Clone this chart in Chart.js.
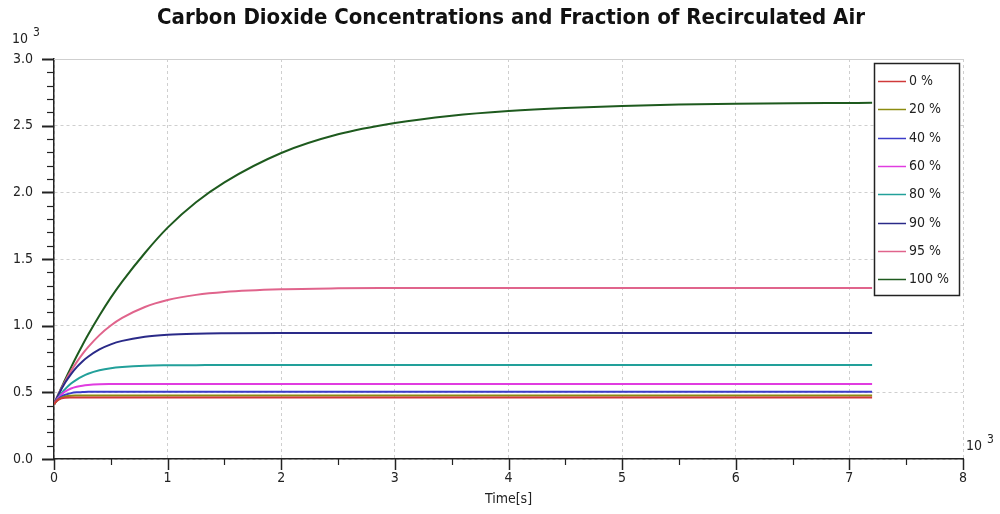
<!DOCTYPE html>
<html>
<head>
<meta charset="utf-8">
<script src="https://cdn.jsdelivr.net/npm/chart.js@4"></script>
<style>
  html, body { margin: 0; padding: 0; background: #fff; }
  #wrap { width: 1000px; height: 514px; }
</style>
</head>
<body>
<div id="wrap"><canvas id="co2chart"></canvas></div>
<script>
// time axis in 10^3 s, concentrations in 10^3 ppm
var timeKs = [0, 0.02, 0.04, 0.06, 0.08, 0.1, 0.15, 0.2, 0.25, 0.3, 0.4, 0.5, 0.6, 0.8, 1.0,
              1.25, 1.5, 2.0, 2.5, 3.0, 3.5, 4.0, 4.5, 5.0, 5.5, 6.0, 6.5, 7.0, 7.2];

var co2_0   = [0.41, 0.433, 0.445, 0.453, 0.457, 0.459, 0.461, 0.462, 0.462, 0.462, 0.462, 0.462, 0.462, 0.462, 0.462,
               0.462, 0.462, 0.462, 0.462, 0.462, 0.462, 0.462, 0.462, 0.462, 0.462, 0.462, 0.462, 0.462, 0.462];
var co2_20  = [0.41, 0.432, 0.447, 0.457, 0.463, 0.468, 0.474, 0.476, 0.477, 0.477, 0.477, 0.477, 0.477, 0.477, 0.477,
               0.477, 0.477, 0.477, 0.477, 0.477, 0.477, 0.477, 0.477, 0.477, 0.477, 0.477, 0.477, 0.477, 0.477];
var co2_40  = [0.41, 0.434, 0.451, 0.465, 0.475, 0.482, 0.494, 0.500, 0.502, 0.504, 0.505, 0.505, 0.505, 0.505, 0.505,
               0.505, 0.505, 0.505, 0.505, 0.505, 0.505, 0.505, 0.505, 0.505, 0.505, 0.505, 0.505, 0.505, 0.505];
var co2_60  = [0.41, 0.438, 0.460, 0.479, 0.494, 0.507, 0.529, 0.542, 0.550, 0.555, 0.560, 0.562, 0.563, 0.563, 0.563,
               0.563, 0.563, 0.563, 0.563, 0.563, 0.563, 0.563, 0.563, 0.563, 0.563, 0.563, 0.563, 0.563, 0.563];
var co2_80  = [0.41, 0.438, 0.463, 0.486, 0.507, 0.526, 0.566, 0.596, 0.620, 0.639, 0.665, 0.681, 0.690, 0.700, 0.703,
               0.704, 0.705, 0.705, 0.705, 0.705, 0.705, 0.705, 0.705, 0.705, 0.705, 0.705, 0.705, 0.705, 0.705];
var co2_90  = [0.41, 0.448, 0.483, 0.516, 0.546, 0.575, 0.637, 0.689, 0.732, 0.767, 0.822, 0.860, 0.886, 0.917, 0.932,
               0.940, 0.943, 0.945, 0.945, 0.945, 0.945, 0.945, 0.945, 0.945, 0.945, 0.945, 0.945, 0.945, 0.945];
var co2_95  = [0.41, 0.449, 0.485, 0.521, 0.554, 0.586, 0.661, 0.727, 0.787, 0.839, 0.929, 1.001, 1.058, 1.140, 1.192,
               1.231, 1.253, 1.273, 1.280, 1.282, 1.283, 1.283, 1.283, 1.283, 1.283, 1.283, 1.283, 1.283, 1.283];
var co2_100 = [0.41, 0.449, 0.488, 0.525, 0.562, 0.599, 0.687, 0.772, 0.853, 0.931, 1.076, 1.21, 1.33, 1.545, 1.735,
               1.925, 2.075, 2.295, 2.435, 2.52, 2.575, 2.61, 2.633, 2.648, 2.658, 2.664, 2.668, 2.67, 2.671];

var seriesLabels = ['0 %', '20 %', '40 %', '60 %', '80 %', '90 %', '95 %', '100 %'];
var seriesValues = [co2_0, co2_20, co2_40, co2_60, co2_80, co2_90, co2_95, co2_100];
var seriesColors = ['#d03a3a', '#8c8c10', '#3c3cc8', '#e03ce0', '#22a09a', '#2a2a88', '#e0648c', '#1e5a1e'];

var yTicks = [0, 0.5, 1.0, 1.5, 2.0, 2.5, 3.0];
var xTicks = [0, 1, 2, 3, 4, 5, 6, 7, 8];

var chartTitle = 'Carbon Dioxide Concentrations and Fraction of Recirculated Air';
var FONT = "'DejaVu Sans Condensed', 'DejaVu Sans', sans-serif";

var datasets = seriesValues.map(function (vals, i) {
    return {
        label: seriesLabels[i],
        data: vals.map(function (v, k) { return { x: timeKs[k], y: v }; }),
        borderColor: seriesColors[i],
        backgroundColor: seriesColors[i],
        borderWidth: 2,
        pointRadius: 0,
        cubicInterpolationMode: 'monotone',
        fill: false
    };
});

// title, minor/major axis ticks, exponent labels and the boxed legend
var decorations = {
    id: 'decorations',
    afterDraw: function (chart) {
        var ctx = chart.ctx, a = chart.chartArea;
        var xs = chart.scales.x, ys = chart.scales.y;
        ctx.save();

        ctx.fillStyle = '#111';
        ctx.font = 'bold 22px ' + FONT;
        ctx.textAlign = 'center';
        ctx.textBaseline = 'middle';
        ctx.fillText(chartTitle, 511, 18);

        ctx.strokeStyle = '#cfcfcf';
        ctx.lineWidth = 1;
        ctx.beginPath();
        ctx.moveTo(a.left, Math.round(a.top) + 0.5);
        ctx.lineTo(a.right, Math.round(a.top) + 0.5);
        ctx.stroke();

        ctx.strokeStyle = '#222';
        for (var i = 0; i <= 30; i++) {
            var py = Math.round(ys.getPixelForValue(i / 10)) + 0.5;
            var major = i % 5 === 0;
            ctx.lineWidth = major ? 2 : 1.2;
            ctx.beginPath();
            ctx.moveTo(a.left - (major ? 12 : 7), py);
            ctx.lineTo(a.left, py);
            ctx.stroke();
        }
        for (var j = 0; j <= 16; j++) {
            var px = Math.round(xs.getPixelForValue(j / 2)) + 0.5;
            var maj = j % 2 === 0;
            ctx.lineWidth = maj ? 1.5 : 1.2;
            ctx.beginPath();
            ctx.moveTo(px, a.bottom);
            ctx.lineTo(px, a.bottom + (maj ? 11 : 6));
            ctx.stroke();
        }

        // exponent labels
        ctx.fillStyle = '#222';
        ctx.textBaseline = 'alphabetic';
        ctx.textAlign = 'left';
        ctx.font = '14px ' + FONT;
        ctx.fillText('10', 12, 43);
        ctx.fillText('10', 966, 450);
        ctx.font = '12px ' + FONT;
        ctx.fillText('3', 33, 36);
        ctx.fillText('3', 987, 443);

        // legend
        var lx = 874, ly = 63, lw = 85, lh = 232;
        ctx.fillStyle = '#fff';
        ctx.fillRect(lx, ly, lw, lh);
        ctx.strokeStyle = '#222';
        ctx.lineWidth = 1.5;
        ctx.strokeRect(lx + 0.5, ly + 0.5, lw, lh);
        ctx.font = '14px ' + FONT;
        ctx.textBaseline = 'middle';
        chart.data.datasets.forEach(function (ds, k) {
            var ry = Math.round(ly + 18 + k * 28.33) + 0.5;
            ctx.strokeStyle = ds.borderColor;
            ctx.lineWidth = 1.5;
            ctx.beginPath();
            ctx.moveTo(lx + 4, ry);
            ctx.lineTo(lx + 32, ry);
            ctx.stroke();
            ctx.fillStyle = '#222';
            ctx.fillText(ds.label, lx + 35, ry);
        });
        ctx.restore();
    }
};

var ctx = document.getElementById('co2chart').getContext('2d');
var chart = new Chart(ctx, {
    type: 'line',
    data: { datasets: datasets },
    options: {
        responsive: true,
        maintainAspectRatio: false,
        animation: false,
        events: [],
        layout: { padding: { top: 59, right: 37, bottom: 0, left: 0 } },
        plugins: {
            legend: { display: false },
            tooltip: { enabled: false },
            title: { display: false }
        },
        scales: {
            x: {
                type: 'linear',
                min: 0,
                max: 8,
                afterFit: function (s) { s.height = 55; },
                afterBuildTicks: function (s) { s.ticks = xTicks.map(function (v) { return { value: v }; }); },
                ticks: { color: '#222', padding: 11, maxRotation: 0, font: { family: FONT, size: 14 } },
                grid: { color: '#cfcfcf', drawTicks: false },
                border: { color: '#222', width: 1.5, dash: [3, 3] },
                title: {
                    display: true,
                    text: 'Time[s]',
                    color: '#222',
                    font: { family: FONT, size: 14 },
                    padding: { top: 0, bottom: 6 }
                }
            },
            y: {
                type: 'linear',
                min: 0,
                max: 3,
                afterFit: function (s) { s.width = 54; },
                afterBuildTicks: function (s) { s.ticks = yTicks.map(function (v) { return { value: v }; }); },
                ticks: {
                    color: '#222',
                    padding: 21,
                    font: { family: FONT, size: 14 },
                    callback: function (v) { return Number(v).toFixed(1); }
                },
                grid: { color: '#cfcfcf', drawTicks: false },
                border: { color: '#222', width: 1.5, dash: [3, 3] }
            }
        }
    },
    plugins: [decorations]
});
</script>
</body>
</html>
